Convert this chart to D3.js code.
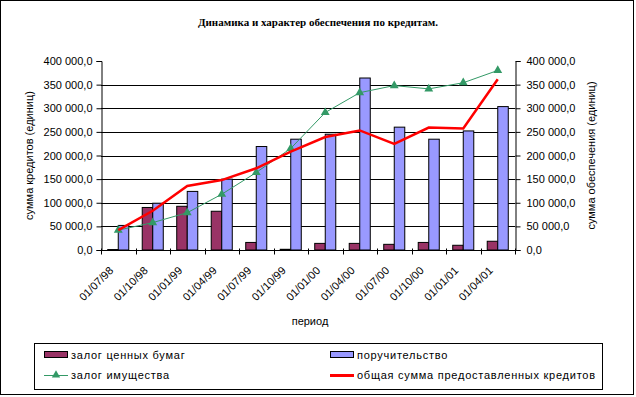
<!DOCTYPE html>
<html>
<head>
<meta charset="utf-8">
<script src="https://cdn.jsdelivr.net/npm/d3@7"></script>
<style>
  body { margin: 0; background: white; }
  text { font-family: "Liberation Sans", Arial, sans-serif; fill: black; }
</style>
</head>
<body>
<script>
const width = 636, height = 397;

// data
const periods = ["01/07/98", "01/10/98", "01/01/99", "01/04/99", "01/07/99", "01/10/99",
                 "01/01/00", "01/04/00", "01/07/00", "01/10/00", "01/01/01", "01/04/01"];
const securities = [1000, 90000, 92500, 82000, 16000, 1500, 14000, 14000, 12000, 16000, 10000, 18500];
const guarantee = [52000, 99000, 124000, 150000, 219000, 234500, 245000, 364000, 260000, 234500, 252000, 303500];
const property = [42000, 58000, 79000, 118000, 164000, 215000, 291000, 333000, 348000, 341000, 354000, 380000];
const totalCredit = [42000, 83000, 135500, 148000, 173000, 208000, 239000, 253000, 224500, 259000, 257000, 361500];
const yTicks = [0, 50000, 100000, 150000, 200000, 250000, 300000, 350000, 400000];

const margin = {left: 101, right: 121, top: 61, bottom: 147};

const svg = d3.select("body").append("svg")
    .attr("width", width)
    .attr("height", height);

svg.append("rect")
    .attr("x", 0.5).attr("y", 0.5)
    .attr("width", 633).attr("height", 394)
    .attr("fill", "white")
    .attr("stroke", "black");

const x = d3.scaleBand()
    .domain(periods)
    .range([margin.left, width - margin.right]);

const y = d3.scaleLinear()
    .domain([0, 400000])
    .range([height - margin.bottom, margin.top]);

const y2 = d3.scaleLinear()
    .domain([0, 400000])
    .range([height - margin.bottom, margin.top]);

const fmt = v => d3.format(",.1f")(v).replace(/,/g, " ").replace(".", ",");

// gridlines
svg.append("g")
    .selectAll("line")
    .data(yTicks.filter(d => d > 0 && d < 400000))
    .enter().append("line")
        .attr("x1", margin.left).attr("x2", width - margin.right)
        .attr("y1", d => Math.round(y(d)) + 0.5).attr("y2", d => Math.round(y(d)) + 0.5)
        .attr("stroke", "black");

// bars
const inner = x.bandwidth() * 0.305;
const grpOffset = (x.bandwidth() - 2 * inner) / 2;

svg.append("g")
    .selectAll("rect")
    .data(securities)
    .enter().append("rect")
        .attr("x", (d, i) => x(periods[i]) + grpOffset)
        .attr("y", d => y(d))
        .attr("width", inner)
        .attr("height", d => y(0) - y(d))
        .attr("fill", "#993366")
        .attr("stroke", "black");

svg.append("g")
    .selectAll("rect")
    .data(guarantee)
    .enter().append("rect")
        .attr("x", (d, i) => x(periods[i]) + grpOffset + inner)
        .attr("y", d => y(d))
        .attr("width", inner)
        .attr("height", d => y(0) - y(d))
        .attr("fill", "#9999FF")
        .attr("stroke", "black");

const cx = p => x(p) + x.bandwidth() / 2;

// axes
const yAxisL = d3.axisLeft(y).tickValues(yTicks).tickFormat(fmt).tickSize(5).tickPadding(4);
const yAxisR = d3.axisRight(y2).tickValues(yTicks).tickFormat(fmt).tickSize(5).tickPadding(6);

const gl = svg.append("g").attr("transform", `translate(${margin.left + 0.5},0)`).call(yAxisL);
const gr = svg.append("g").attr("transform", `translate(${width - margin.right + 0.5},0)`).call(yAxisR);
[gl, gr].forEach(g => {
    g.select(".domain").attr("stroke", "black");
    g.selectAll(".tick line").attr("stroke", "black");
    g.selectAll("text").attr("font-size", 11).attr("font-family", "Liberation Sans, Arial, sans-serif");
});

const gx = svg.append("g").attr("transform", `translate(0,${y(0) + 0.5})`);
gx.append("line")
    .attr("x1", margin.left).attr("x2", width - margin.right)
    .attr("stroke", "black");
gx.selectAll("line.tk")
    .data(d3.range(periods.length + 1))
    .enter().append("line")
        .attr("class", "tk")
        .attr("x1", i => Math.round(margin.left + i * x.step()) + 0.5)
        .attr("x2", i => Math.round(margin.left + i * x.step()) + 0.5)
        .attr("y1", -2).attr("y2", 4)
        .attr("stroke", "black");
gx.selectAll("text")
    .data(periods)
    .enter().append("text")
        .attr("transform", d => `translate(${cx(d) - 7},${18}) rotate(-45)`)
        .attr("text-anchor", "end")
        .attr("dy", "0.35em")
        .attr("font-size", 11)
        .text(d => d);

// green line: залог имущества
const lineG = d3.line().x((d, i) => cx(periods[i])).y(d => y2(d));
svg.append("path")
    .datum(property)
    .attr("d", lineG)
    .attr("fill", "none")
    .attr("stroke", "#339966")
    .attr("stroke-width", 1);
svg.append("g")
    .selectAll("path")
    .data(property)
    .enter().append("path")
        .attr("d", d3.symbol(d3.symbolTriangle, 34))
        .attr("transform", (d, i) => `translate(${cx(periods[i])},${y2(d)})`)
        .attr("fill", "#339966");

// red line: общая сумма
svg.append("path")
    .datum(totalCredit)
    .attr("d", lineG)
    .attr("fill", "none")
    .attr("stroke", "#FF0000")
    .attr("stroke-width", 2.5);

// titles
svg.append("text")
    .attr("x", 318).attr("y", 26)
    .attr("text-anchor", "middle")
    .style("font-family", "Liberation Serif, serif")
    .attr("font-weight", "bold")
    .attr("font-size", 11)
    .text("Динамика и характер обеспечения по кредитам.");

svg.append("text")
    .attr("transform", `translate(33,${(y(0) + y(400000)) / 2}) rotate(-90)`)
    .attr("text-anchor", "middle")
    .attr("font-size", 11)
    .text("сумма кредитов  (единиц)");

svg.append("text")
    .attr("transform", `translate(595,${(y(0) + y(400000)) / 2}) rotate(-90)`)
    .attr("text-anchor", "middle")
    .attr("font-size", 11)
    .text("сумма обеспечения (единиц)");

svg.append("text")
    .attr("x", 310).attr("y", 325)
    .attr("text-anchor", "middle")
    .attr("font-size", 11)
    .text("период");

// legend
const lg = svg.append("g");
lg.append("rect")
    .attr("x", 34.5).attr("y", 343.5)
    .attr("width", 568).attr("height", 46)
    .attr("fill", "white").attr("stroke", "black");

const items = [
    {name: "залог ценных бумаг", kind: "bar", color: "#993366", col: 0, row: 0},
    {name: "поручительство", kind: "bar", color: "#9999FF", col: 1, row: 0},
    {name: "залог имущества", kind: "tri", color: "#339966", col: 0, row: 1},
    {name: "общая сумма предоставленных кредитов", kind: "line", color: "#FF0000", col: 1, row: 1}
];
const colX = [44, 330];
const rowY = [355, 375];

items.forEach(it => {
    const gx0 = colX[it.col], gy0 = rowY[it.row];
    if (it.kind === "bar") {
        lg.append("rect")
            .attr("x", gx0 + 0.5).attr("y", gy0 - 3.5)
            .attr("width", 23).attr("height", 6)
            .attr("fill", it.color).attr("stroke", "black");
    } else if (it.kind === "tri") {
        lg.append("line")
            .attr("x1", gx0).attr("x2", gx0 + 24)
            .attr("y1", gy0 + 0.5).attr("y2", gy0 + 0.5)
            .attr("stroke", it.color);
        lg.append("path")
            .attr("d", d3.symbol(d3.symbolTriangle, 30))
            .attr("transform", `translate(${gx0 + 12},${gy0})`)
            .attr("fill", it.color);
    } else {
        lg.append("line")
            .attr("x1", gx0).attr("x2", gx0 + 24)
            .attr("y1", gy0 + 0.5).attr("y2", gy0 + 0.5)
            .attr("stroke", it.color).attr("stroke-width", 3);
    }
    lg.append("text")
        .attr("x", gx0 + 27).attr("y", gy0)
        .attr("dy", "0.35em")
        .attr("font-size", 11)
        .attr("letter-spacing", 0.75)
        .text(it.name);
});
</script>
</body>
</html>
